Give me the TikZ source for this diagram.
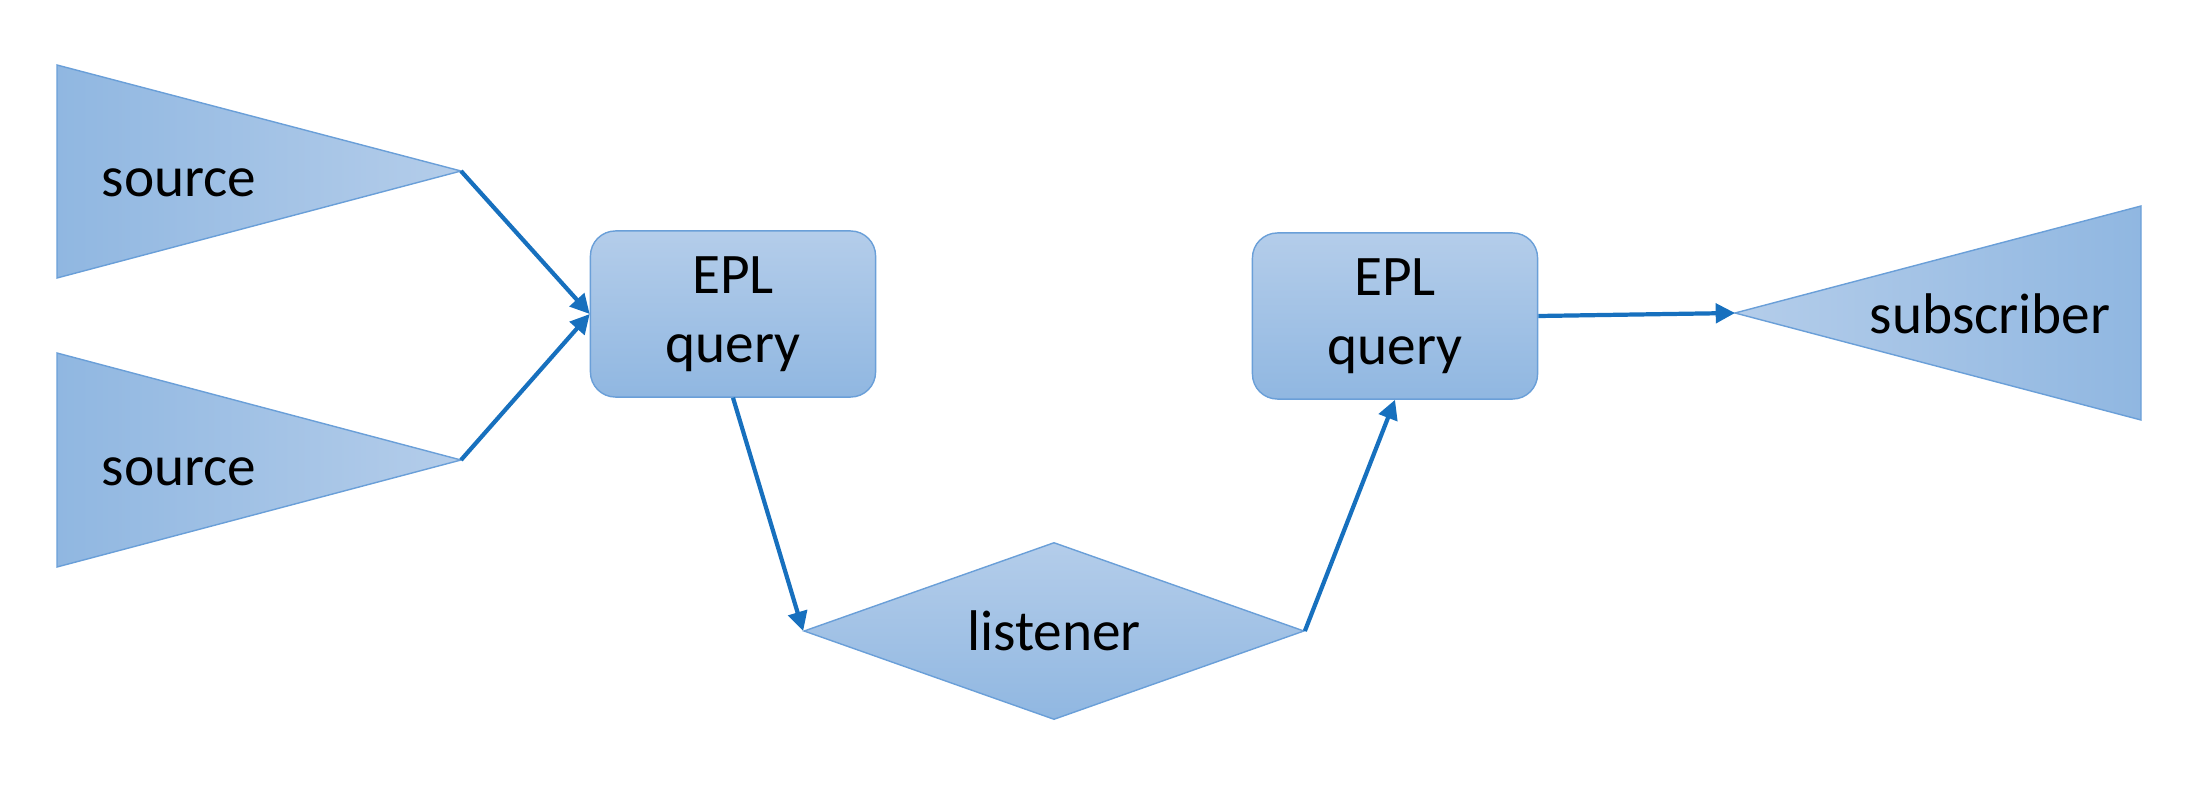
\documentclass[tikz,border=0pt]{standalone}
\usepackage{fontspec}
\setmainfont{Carlito}
\usetikzlibrary{shapes.geometric,arrows.meta}
\definecolor{shadelight}{HTML}{B4CDEA}
\definecolor{shadedark}{HTML}{90B7E1}
\definecolor{rimblue}{HTML}{6A9FD8}
\definecolor{linkblue}{HTML}{1770BE}
\begin{document}
\begin{tikzpicture}[x=0.01cm,y=-0.01cm,
  every node/.style={font=\fontsize{16.3}{19.5}\selectfont},
  epl/.style={draw=rimblue,line width=0.4pt,rectangle,rounded corners=0.25cm,
    top color=shadelight,bottom color=shadedark,minimum width=2.85cm,
    minimum height=1.66cm,align=center},
  link/.style={draw=linkblue,line width=1.2pt,-{Triangle[length=5.5pt,width=5.5pt]}}]
\useasboundingbox (0,0) rectangle (2186,794);
% sources
\begin{scope}
\path[draw=rimblue,line width=0.4pt,left color=shadedark,right color=shadelight]
  (57,65) -- (461,171) -- (57,278) -- cycle;
\coordinate (s1) at (461,171);
\node[anchor=base] (src1) at (179,196) {source};
\path[draw=rimblue,line width=0.4pt,left color=shadedark,right color=shadelight]
  (57,353) -- (461,460) -- (57,567) -- cycle;
\coordinate (s2) at (461,460);
\node[anchor=base] (src2) at (179,485) {source};
\end{scope}
% queries and listener
\node[epl] (q1) at (733,314) {EPL\\query};
\node[epl] (q2) at (1395,316) {EPL\\query};
\node[draw=rimblue,line width=0.4pt,diamond,inner sep=0pt,aspect=2.8,
  minimum width=5cm,minimum height=1.77cm,
  top color=shadelight,bottom color=shadedark] (lis) at (1054,631) {listener};
% subscriber
\path[draw=rimblue,line width=0.4pt,left color=shadelight,right color=shadedark]
  (2141,206) -- (1735,313) -- (2141,420) -- cycle;
\coordinate (sub) at (1735,313);
\node[anchor=base] (subtxt) at (1990,333) {subscriber};
% links
\path[link] (s1) -- (q1.west);
\path[link] (s2) -- (q1.west);
\path[link] (q1.south) -- (lis.west);
\path[link] (lis.east) -- (q2.south);
\path[link] (q2.east) -- (sub);
\end{tikzpicture}
\end{document}
